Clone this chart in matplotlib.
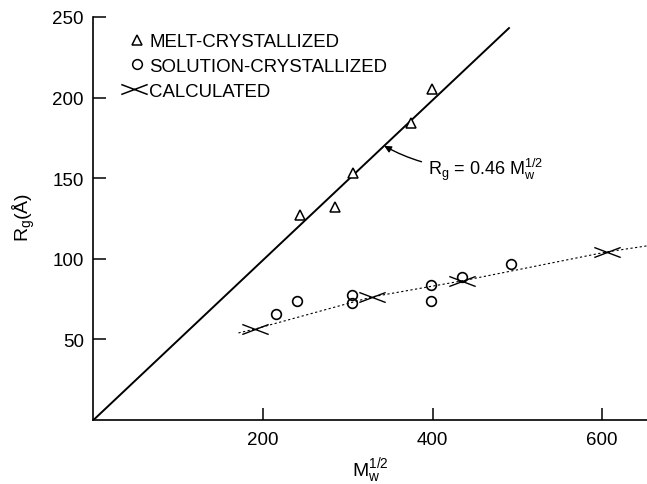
import matplotlib
matplotlib.use('Agg')
import matplotlib.pyplot as plt
from matplotlib.path import Path

# ---- data ----
melt_x = [244, 285, 306, 374, 399]
melt_y = [127, 132, 153, 184, 205]
sol_x = [215, 240, 305, 305, 398, 398, 435, 492]
sol_y = [66, 74, 77.6, 72.4, 83.9, 73.6, 88.8, 96.9]
calc_x = [191, 329, 435, 606]
calc_y = [56.5, 76.4, 86.3, 104.3]
calc_curve_x = [171, 191, 329, 435, 606, 653]
calc_curve_y = [54, 56.5, 76.4, 86.3, 104.3, 108]
fit_x = [0, 491]
fit_y = [0, 243.5]
xticks = [200, 400, 600]
yticks = [50, 100, 150, 200, 250]
legend_labels = ['MELT-CRYSTALLIZED', 'SOLUTION-CRYSTALLIZED', 'CALCULATED']
fit_label = r'R$_\mathregular{g}$ = 0.46 M$_\mathregular{w}^\mathregular{1/2}$'

plt.rcParams['font.family'] = ['Liberation Sans', 'DejaVu Sans']
plt.rcParams['mathtext.fontset'] = 'custom'
plt.rcParams['mathtext.rm'] = 'Liberation Sans'
plt.rcParams['mathtext.it'] = 'Liberation Sans'
plt.rcParams['mathtext.bf'] = 'Liberation Sans:bold'

cross = Path([(-1, -0.38), (1, 0.38), (-1, 0.38), (1, -0.38)],
             [Path.MOVETO, Path.LINETO, Path.MOVETO, Path.LINETO])

fig = plt.figure(figsize=(6.47, 4.85), dpi=100)
ax = fig.add_axes([0.1445, 0.132, 0.8555, 0.831])
ax.set_xlim(0, 653)
ax.set_ylim(0, 250)

ax.plot(fit_x, fit_y, color='black', lw=1.4, solid_capstyle='butt')
ax.plot(calc_curve_x, calc_curve_y, color='black', lw=0.8, dashes=(2, 2.2))
ax.plot(melt_x, melt_y, ls='none', marker='^', ms=7, mfc='white', mec='black', mew=1.1)
ax.plot(sol_x, sol_y, ls='none', marker='o', ms=7, mfc='none', mec='black', mew=1.2)
ax.plot(calc_x, calc_y, ls='none', marker=cross, ms=19, mfc='none', mec='black', mew=1.0)

ax.annotate(fit_label, xy=(343, 170), xytext=(395, 156), fontsize=13,
            va='center', ha='left',
            arrowprops=dict(arrowstyle='-|>', color='black', lw=1.0,
                            connectionstyle='arc3,rad=-0.15', shrinkA=3, shrinkB=0,
                            mutation_scale=10))

# legend (manual)
lx_marker = [0.0786, 0.0786, 0.073]
ly_marker = [0.943, 0.883, 0.821]
ly_text = [0.928, 0.865, 0.805]
markers = ['^', 'o', cross]
msizes = [7, 7, 19]
for lab, mk, ms, mx, my, ty in zip(legend_labels, markers, msizes, lx_marker, ly_marker, ly_text):
    ax.plot([mx], [my], transform=ax.transAxes, ls='none', marker=mk, ms=ms,
            mfc='none', mec='black', mew=1.1, clip_on=False)
    ax.text(0.1003, ty, lab, transform=ax.transAxes, fontsize=13.4, va='baseline', ha='left')

for s in ['top', 'right']:
    ax.spines[s].set_visible(False)
for s in ['left', 'bottom']:
    ax.spines[s].set_linewidth(1.2)

ax.set_xticks(xticks)
ax.set_yticks(yticks)
ax.tick_params(direction='in', length=9, width=1.1, labelsize=13.5)
ax.tick_params(axis='x', pad=8)
ax.tick_params(axis='y', pad=7)

ax.set_xlabel(r'M$_\mathregular{w}^\mathregular{1/2}$', fontsize=14)
ax.set_ylabel(r'R$_\mathregular{g}$(Å)', fontsize=14)
ax.xaxis.set_label_coords(0.5, -0.088)
ax.yaxis.set_label_coords(-0.102, 0.506)

fig.savefig('out.png', dpi=100)
